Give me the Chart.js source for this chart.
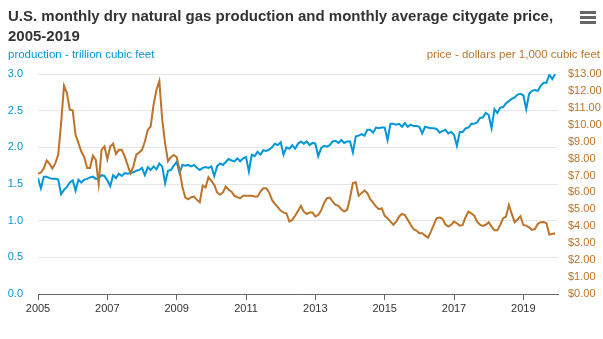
<!DOCTYPE html>
<html>
<head>
<meta charset="utf-8">
<script src="https://cdn.jsdelivr.net/npm/chart.js@4.4.1/dist/chart.umd.min.js"></script>
<style>
  html, body { margin:0; padding:0; background:#fff; }
  #wrap { position:relative; width:603px; height:339px; font-family:"Liberation Sans", Arial, sans-serif; }
  #title { position:absolute; left:8px; top:6px; font-size:15px; font-weight:bold; color:#333; line-height:20px; white-space:nowrap; }
  .axis-t { position:absolute; top:47px; font-size:11.5px; line-height:14px; }
  #lt { left:8px; color:#0096d7; }
  #rt { right:3px; color:#bd732a; }
  #menu { position:absolute; left:580px; top:11px; width:16px; }
  #menu i { display:block; height:2.5px; background:#666; margin-bottom:2.5px; }
  canvas { position:absolute; left:0; top:0; }
</style>
</head>
<body>
<div id="wrap">
  <canvas id="chart" width="603" height="339"></canvas>
  <div id="title">U.S. monthly dry natural gas production and monthly average citygate price,<br>2005-2019</div>
  <div class="axis-t" id="lt">production - trillion cubic feet</div>
  <div class="axis-t" id="rt">price - dollars per 1,000 cubic feet</div>
  <div id="menu"><i></i><i></i><i></i></div>
</div>
<script>
// monthly, Jan 2005 .. Dec 2019
const startYear = 2005;
const yearTicks = [2005, 2007, 2009, 2011, 2013, 2015, 2017, 2019];

// trillion cubic feet
const production = [
  1.58,1.44,1.60,1.60,1.58,1.57,1.57,1.56,1.36,1.42,1.46,1.52,
  1.55,1.41,1.56,1.52,1.56,1.57,1.59,1.60,1.57,1.58,1.62,1.61,
  1.55,1.47,1.62,1.58,1.64,1.61,1.65,1.64,1.65,1.66,1.68,1.69,
  1.72,1.62,1.73,1.69,1.74,1.70,1.78,1.74,1.51,1.68,1.69,1.75,
  1.80,1.65,1.76,1.75,1.76,1.74,1.76,1.72,1.69,1.72,1.73,1.72,
  1.74,1.61,1.74,1.78,1.76,1.80,1.84,1.82,1.81,1.85,1.81,1.85,
  1.87,1.67,1.90,1.88,1.94,1.90,1.96,1.95,1.97,2.00,2.05,2.03,
  2.07,1.90,2.00,1.98,2.03,1.98,2.05,2.08,2.05,2.08,2.03,2.06,
  2.05,1.88,1.99,2.02,2.01,2.03,2.08,2.09,2.06,2.10,2.06,2.08,
  2.08,1.93,2.15,2.16,2.18,2.16,2.24,2.24,2.20,2.27,2.26,2.27,
  2.27,2.10,2.32,2.32,2.31,2.32,2.28,2.33,2.28,2.31,2.29,2.29,
  2.28,2.19,2.28,2.27,2.26,2.26,2.25,2.20,2.22,2.24,2.19,2.21,
  2.17,2.02,2.21,2.21,2.26,2.27,2.32,2.32,2.34,2.40,2.41,2.47,
  2.44,2.26,2.52,2.47,2.54,2.55,2.60,2.63,2.66,2.68,2.72,2.73,
  2.71,2.52,2.73,2.77,2.78,2.77,2.84,2.88,2.88,2.99,2.93,3.00
];

// dollars per 1,000 cubic feet
const price = [
  7.10,7.18,7.42,7.89,7.69,7.42,7.73,8.22,10.10,12.31,11.87,10.89,
  10.85,9.41,8.92,8.42,8.09,7.44,7.44,8.17,7.93,6.51,8.52,8.72,
  7.97,8.72,8.88,8.28,8.52,8.52,8.13,7.63,7.14,7.53,8.22,8.36,
  8.52,9.01,9.70,9.90,11.18,12.07,12.58,10.30,8.90,7.85,8.09,8.22,
  8.09,7.34,6.30,5.70,5.60,5.72,5.76,5.56,5.42,6.40,6.30,6.90,
  6.69,6.45,6.00,5.86,6.00,6.35,6.16,6.05,5.80,5.72,5.66,5.80,
  5.80,5.80,5.80,5.76,5.76,6.05,6.25,6.25,6.00,5.56,5.33,5.13,
  4.93,4.81,4.77,4.28,4.38,4.62,4.91,5.21,4.87,4.73,4.81,4.81,
  4.58,4.67,4.93,5.37,5.66,5.70,5.46,5.27,5.21,5.01,4.87,4.97,
  5.66,6.55,6.60,5.80,5.96,6.11,5.96,5.60,5.40,5.17,5.01,5.07,
  4.62,4.48,4.28,4.09,4.28,4.58,4.73,4.67,4.38,4.09,3.83,3.75,
  3.59,3.59,3.45,3.33,3.69,4.08,4.48,4.52,4.44,4.12,3.98,4.08,
  4.28,4.18,4.04,4.08,4.54,4.87,4.77,4.63,4.28,4.09,4.02,4.09,
  4.24,3.98,3.76,3.76,4.08,4.48,4.58,5.27,4.73,4.24,4.40,4.60,
  4.08,4.04,3.94,3.79,3.83,4.14,4.24,4.26,4.18,3.51,3.55,3.59
];

const blue = '#0096d7', orange = '#bd732a';
const font = { family: '"Liberation Sans", Arial, sans-serif', size: 11 };
const toPoints = arr => arr.map((v, i) => ({ x: startYear + i / 12, y: v }));

new Chart(document.getElementById('chart'), {
  type: 'line',
  data: {
    datasets: [
      { label: 'price', data: toPoints(price), yAxisID: 'yR', borderColor: orange, borderWidth: 2, pointRadius: 0, tension: 0, order: 1 },
      { label: 'production', data: toPoints(production), yAxisID: 'yL', borderColor: blue, borderWidth: 2, pointRadius: 0, tension: 0, order: 2 }
    ]
  },
  options: {
    responsive: false,
    animation: false,
    layout: { padding: { top: 74, left: 0, right: 0, bottom: 0 } },
    plugins: { legend: { display: false }, tooltip: { enabled: false } },
    scales: {
      x: {
        type: 'linear', min: 2005, max: 2020,
        afterBuildTicks: a => { a.ticks = yearTicks.map(v => ({ value: v })); },
        afterFit: s => { s.height = 45; },
        ticks: { color: '#333', font, padding: 2, maxRotation: 0, autoSkip: false, callback: v => String(v) },
        grid: { drawOnChartArea: false, color: '#666', tickLength: 6 },
        border: { color: '#666' }
      },
      yL: {
        position: 'left', min: 0, max: 3,
        afterFit: s => { s.width = 38; },
        ticks: { stepSize: 0.5, color: blue, font, padding: 15, callback: v => v.toFixed(1) },
        grid: { color: '#e6e6e6', drawTicks: false },
        border: { display: false }
      },
      yR: {
        position: 'right', min: 0, max: 13,
        afterFit: s => { s.width = 45; },
        ticks: { stepSize: 1, color: orange, font, padding: 10, callback: v => '$' + v.toFixed(2) },
        grid: { drawOnChartArea: false, drawTicks: false },
        border: { display: false }
      }
    }
  }
});
</script>
</body>
</html>
